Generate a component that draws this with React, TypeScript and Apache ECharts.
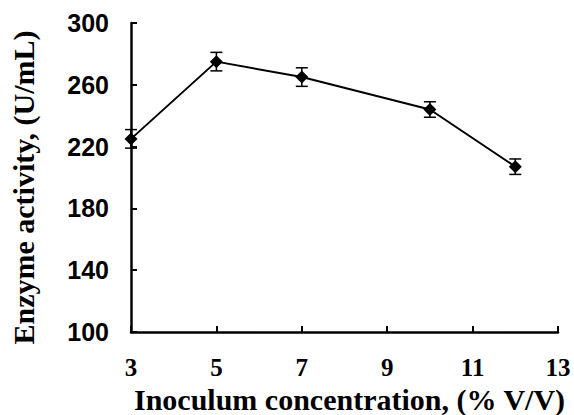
import React, { useEffect, useRef } from "react";
import * as echarts from "echarts";

const xValues = [3, 5, 7, 10, 12];
const yValues = [225, 275, 265, 244, 207];
const yErrors = [6, 6, 6, 5, 5];
const xTicks = { min: 3, max: 13, interval: 2 };
const yTicks = { min: 100, max: 300, interval: 40 };

export default function App() {
  const ref = useRef<HTMLDivElement>(null);
  useEffect(() => {
    if (!ref.current) return;
    const chart = echarts.init(ref.current, undefined, { renderer: "svg" });
    const lineData = xValues.map((x, i) => [x, yValues[i]]);
    const errData = xValues.map((x, i) => [x, yValues[i] - yErrors[i], yValues[i] + yErrors[i]]);
    chart.setOption({
      animation: false,
      backgroundColor: "#ffffff",
      grid: { left: 131, right: 16, top: 23, bottom: 83, containLabel: false, outerBoundsMode: "none" },
      xAxis: {
        type: "value",
        min: xTicks.min,
        max: xTicks.max,
        interval: xTicks.interval,
        name: "Inoculum concentration, (% V/V)",
        nameLocation: "middle",
        nameGap: 56,
        nameTextStyle: {
          fontFamily: "Liberation Serif",
          fontWeight: "bold",
          fontSize: 30,
          lineHeight: 20,
          color: "#000",
          padding: [0, 0, 0, 10],
        },
        axisLine: { lineStyle: { color: "#000", width: 2.5 } },
        axisTick: { inside: true, length: 6, lineStyle: { color: "#000", width: 2 } },
        axisLabel: { fontFamily: "Liberation Serif", fontWeight: "bold", fontSize: 25, color: "#000", margin: 23 },
        splitLine: { show: false },
      },
      yAxis: {
        type: "value",
        min: yTicks.min,
        max: yTicks.max,
        interval: yTicks.interval,
        name: "Enzyme activity, (U/mL)",
        nameLocation: "middle",
        nameRotate: 90,
        nameGap: 93,
        nameTextStyle: {
          fontFamily: "Liberation Serif",
          fontWeight: "bold",
          fontSize: 30,
          color: "#000",
          padding: [0, 20, 0, 0],
        },
        axisLine: { show: true, lineStyle: { color: "#000", width: 2.5 } },
        axisTick: { show: true, inside: true, length: 6, lineStyle: { color: "#000", width: 2 } },
        axisLabel: { fontFamily: "Liberation Sans", fontWeight: "bold", fontSize: 25, color: "#000", margin: 22 },
        splitLine: { show: false },
      },
      series: [
        {
          type: "custom",
          data: errData,
          z: 3,
          renderItem: (params: any, api: any) => {
            const x = api.value(0);
            const lo = api.coord([x, api.value(1)]);
            const hi = api.coord([x, api.value(2)]);
            const hw = 6;
            const style = { stroke: "#000", lineWidth: 1.5 };
            return {
              type: "group",
              children: [
                { type: "line", shape: { x1: lo[0], y1: lo[1], x2: hi[0], y2: hi[1] }, style },
                { type: "line", shape: { x1: lo[0] - hw, y1: lo[1], x2: lo[0] + hw, y2: lo[1] }, style },
                { type: "line", shape: { x1: hi[0] - hw, y1: hi[1], x2: hi[0] + hw, y2: hi[1] }, style },
              ],
            };
          },
        },
        {
          type: "line",
          data: lineData,
          z: 4,
          symbol: "diamond",
          symbolSize: 13,
          itemStyle: { color: "#000" },
          lineStyle: { color: "#000", width: 2 },
        },
      ],
    });
    return () => chart.dispose();
  }, []);
  return <div ref={ref} style={{ width: 574, height: 415, position: "absolute", left: 0, top: 0 }} />;
}
